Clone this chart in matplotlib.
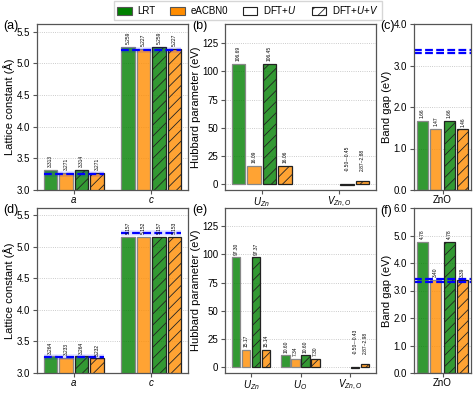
import numpy as np
import matplotlib
matplotlib.use("Agg")
import matplotlib.pyplot as plt
from matplotlib.patches import Patch

plt.rcParams['font.family'] = ['Liberation Sans', 'DejaVu Sans']
plt.rcParams['mathtext.fontset'] = 'custom'
plt.rcParams['mathtext.rm'] = 'Liberation Sans'
plt.rcParams['mathtext.it'] = 'Liberation Sans:italic'
plt.rcParams['hatch.linewidth'] = 0.6

# lattice constants (A)
lat_cats = ['$a$', '$c$']
lat_exp = [3.25, 5.207]
lat_lrt_u_top = [3.313, 5.259]
lat_acb_u_top = [3.271, 5.227]
lat_lrt_uv_top = [3.314, 5.259]
lat_acb_uv_top = [3.271, 5.227]
lat_lrt_u_bot = [3.264, 5.157]
lat_acb_u_bot = [3.233, 5.152]
lat_lrt_uv_bot = [3.264, 5.157]
lat_acb_uv_bot = [3.232, 5.153]

# hubbard parameters (eV)
hub_cats_top = ['$U_{Zn}$', '$V_{Zn,O}$']
hub_lrt_u_top = [106.69, np.nan]
hub_acb_u_top = [16.09, np.nan]
hub_lrt_uv_top = [106.45, -0.48]
hub_acb_uv_top = [16.06, 2.875]
hub_vlabels_top = ['-0.50~-0.45', '2.87~2.88']

hub_cats_bot = ['$U_{Zn}$', '$U_{O}$', '$V_{Zn,O}$']
hub_lrt_u_bot = [97.30, 10.60, np.nan]
hub_acb_u_bot = [15.17, 7.34, np.nan]
hub_lrt_uv_bot = [97.37, 10.60, -0.47]
hub_acb_uv_bot = [15.14, 7.30, 2.925]
hub_vlabels_bot = ['-0.50~-0.43', '2.87~2.98']

# band gap (eV)
gap_cats = ['ZnO']
gap_top = [1.66, 1.47, 1.66, 1.46]
gap_bot = [4.78, 3.40, 4.78, 3.39]
gap_exp_top = [3.30, 3.37]
gap_exp_bot = [3.30, 3.42]

green = (0.0, 0.5, 0.0)
orange = (1.0, 0.549, 0.0)
colors = [green, orange, green, orange]
hatches = [None, None, '///', '///']
W, H = 476, 393
width = 0.2
bw = 0.17

fig = plt.figure(figsize=(W / 100, H / 100), dpi=100)

def ax_at(l, t, r, b):
    return fig.add_axes([l / W, 1 - b / H, (r - l) / W, (b - t) / H])

def style(ax):
    for s in ax.spines.values():
        s.set_color('#555555')
        s.set_linewidth(0.9)
    ax.tick_params(labelsize=7, length=3, width=0.8, color='#555555', pad=2)
    ax.tick_params(axis='x', pad=0.5)
    ax.grid(axis='y', ls=':', color='#bbbbbb', lw=0.6)
    ax.set_axisbelow(True)

def bars(ax, series, fmt, skip_last=False):
    n = len(series[0])
    x = np.arange(n)
    for i, vals in enumerate(series):
        pos = x + (i - 1.5) * width
        fc = colors[i] + (0.8,)
        ec = '#888888' if hatches[i] is None else '#222222'
        ax.bar(pos, vals, bw, facecolor=fc, edgecolor=ec, linewidth=0.9,
               hatch=hatches[i])
        for j, v in enumerate(vals):
            if np.isnan(v) or (skip_last and j == n - 1):
                continue
            ax.annotate(fmt % v, (pos[j], v), xytext=(0, 2), textcoords='offset points',
                        ha='center', va='bottom', rotation=90, fontsize=3.5)
    ax.set_xticks(x)
    return x

def lattice(ax, series, ylim):
    x = bars(ax, series, '%.3f')
    for xi, e in zip(x, lat_exp):
        ax.plot([xi - 1.5 * width - bw / 2, xi + 1.5 * width + bw / 2], [e, e],
                color='blue', lw=4, alpha=0.12, solid_capstyle='butt')
        ax.plot([xi - 1.5 * width - bw / 2, xi + 1.5 * width + bw / 2], [e, e],
                color='blue', lw=1.6, ls='--', dashes=(3.5, 1.5))
    ax.set_xticklabels(lat_cats)
    ax.set_ylim(*ylim)
    ax.set_yticks([3.0, 3.5, 4.0, 4.5, 5.0, 5.5])
    ax.set_ylabel('Lattice constant (Å)', fontsize=8, labelpad=1)
    style(ax)

def hubbard(ax, series, cats, vlabels, ylim):
    x = bars(ax, series, '%.2f', skip_last=True)
    for k, i in enumerate([2, 3]):
        ax.text(x[-1] + (i - 1.5) * width, 12, vlabels[k], ha='center', va='bottom',
                rotation=90, fontsize=3.5)
    ax.set_xticklabels(cats)
    ax.set_ylim(*ylim)
    ax.set_yticks([0, 25, 50, 75, 100, 125])
    ax.set_ylabel('Hubbard parameter (eV)', fontsize=8, labelpad=1)
    style(ax)

def bandgap(ax, vals, exp, ylim, ticks):
    x = np.arange(1)
    for i, v in enumerate(vals):
        pos = x + (i - 1.5) * width
        ec = '#888888' if hatches[i] is None else '#222222'
        ax.bar(pos, [v], bw, facecolor=colors[i] + (0.8,), edgecolor=ec, linewidth=0.9,
               hatch=hatches[i])
        ax.annotate('%.2f' % v, (pos[0], v), xytext=(0, 2), textcoords='offset points',
                    ha='center', va='bottom', rotation=90, fontsize=3.5)
    for e in exp:
        ax.axhline(e, color='blue', lw=1.6, ls='--', dashes=(3.5, 1.5))
    ax.set_xticks(x)
    ax.set_xticklabels(gap_cats)
    ax.set_ylim(*ylim)
    ax.set_yticks(ticks)
    ax.set_yticklabels(['%.1f' % t for t in ticks])
    ax.set_ylabel('Band gap (eV)', fontsize=8, labelpad=1)
    style(ax)

ax_a = ax_at(37, 24, 188, 190)
lattice(ax_a, [lat_lrt_u_top, lat_acb_u_top, lat_lrt_uv_top, lat_acb_uv_top], (3.0, 5.62))
ax_b = ax_at(225, 24, 376, 190)
hubbard(ax_b, [hub_lrt_u_top, hub_acb_u_top, hub_lrt_uv_top, hub_acb_uv_top],
        hub_cats_top, hub_vlabels_top, (-5.3, 142))
ax_c = ax_at(414, 24, 471, 190)
bandgap(ax_c, gap_top, gap_exp_top, (0, 4.0), [0, 1, 2, 3, 4])

ax_d = ax_at(37, 208, 188, 373)
lattice(ax_d, [lat_lrt_u_bot, lat_acb_u_bot, lat_lrt_uv_bot, lat_acb_uv_bot], (3.0, 5.61))
ax_e = ax_at(225, 208, 376, 373)
hubbard(ax_e, [hub_lrt_u_bot, hub_acb_u_bot, hub_lrt_uv_bot, hub_acb_uv_bot],
        hub_cats_bot, hub_vlabels_bot, (-5.0, 141))
ax_f = ax_at(414, 208, 471, 373)
bandgap(ax_f, gap_bot, gap_exp_bot, (0, 6.0), [0, 1, 2, 3, 4, 5, 6])

for lab, px, py in [('(a)', 3, 26), ('(b)', 192, 26), ('(c)', 380, 26),
                    ('(d)', 3, 210), ('(e)', 192, 210), ('(f)', 380, 211)]:
    fig.text(px / W, 1 - py / H, lab, fontsize=9, ha='left', va='center')

handles = [Patch(facecolor=green, edgecolor='#555555', lw=0.8),
           Patch(facecolor=orange, edgecolor='#555555', lw=0.8),
           Patch(facecolor='white', edgecolor='#222222', lw=0.8),
           Patch(facecolor='white', edgecolor='#222222', lw=0.8, hatch='///')]
labels = ['LRT', 'eACBN0', 'DFT+$U$', 'DFT+$U$+$V$']
fig.legend(handles, labels, loc='center', bbox_to_anchor=(248 / W, 1 - 10.5 / H), ncol=4,
           fontsize=7, handlelength=1.5, handleheight=0.9, columnspacing=1.5,
           handletextpad=0.6, borderpad=0.35, frameon=True, edgecolor='#cccccc',
           fancybox=False)

fig.savefig('out.png', dpi=100)
